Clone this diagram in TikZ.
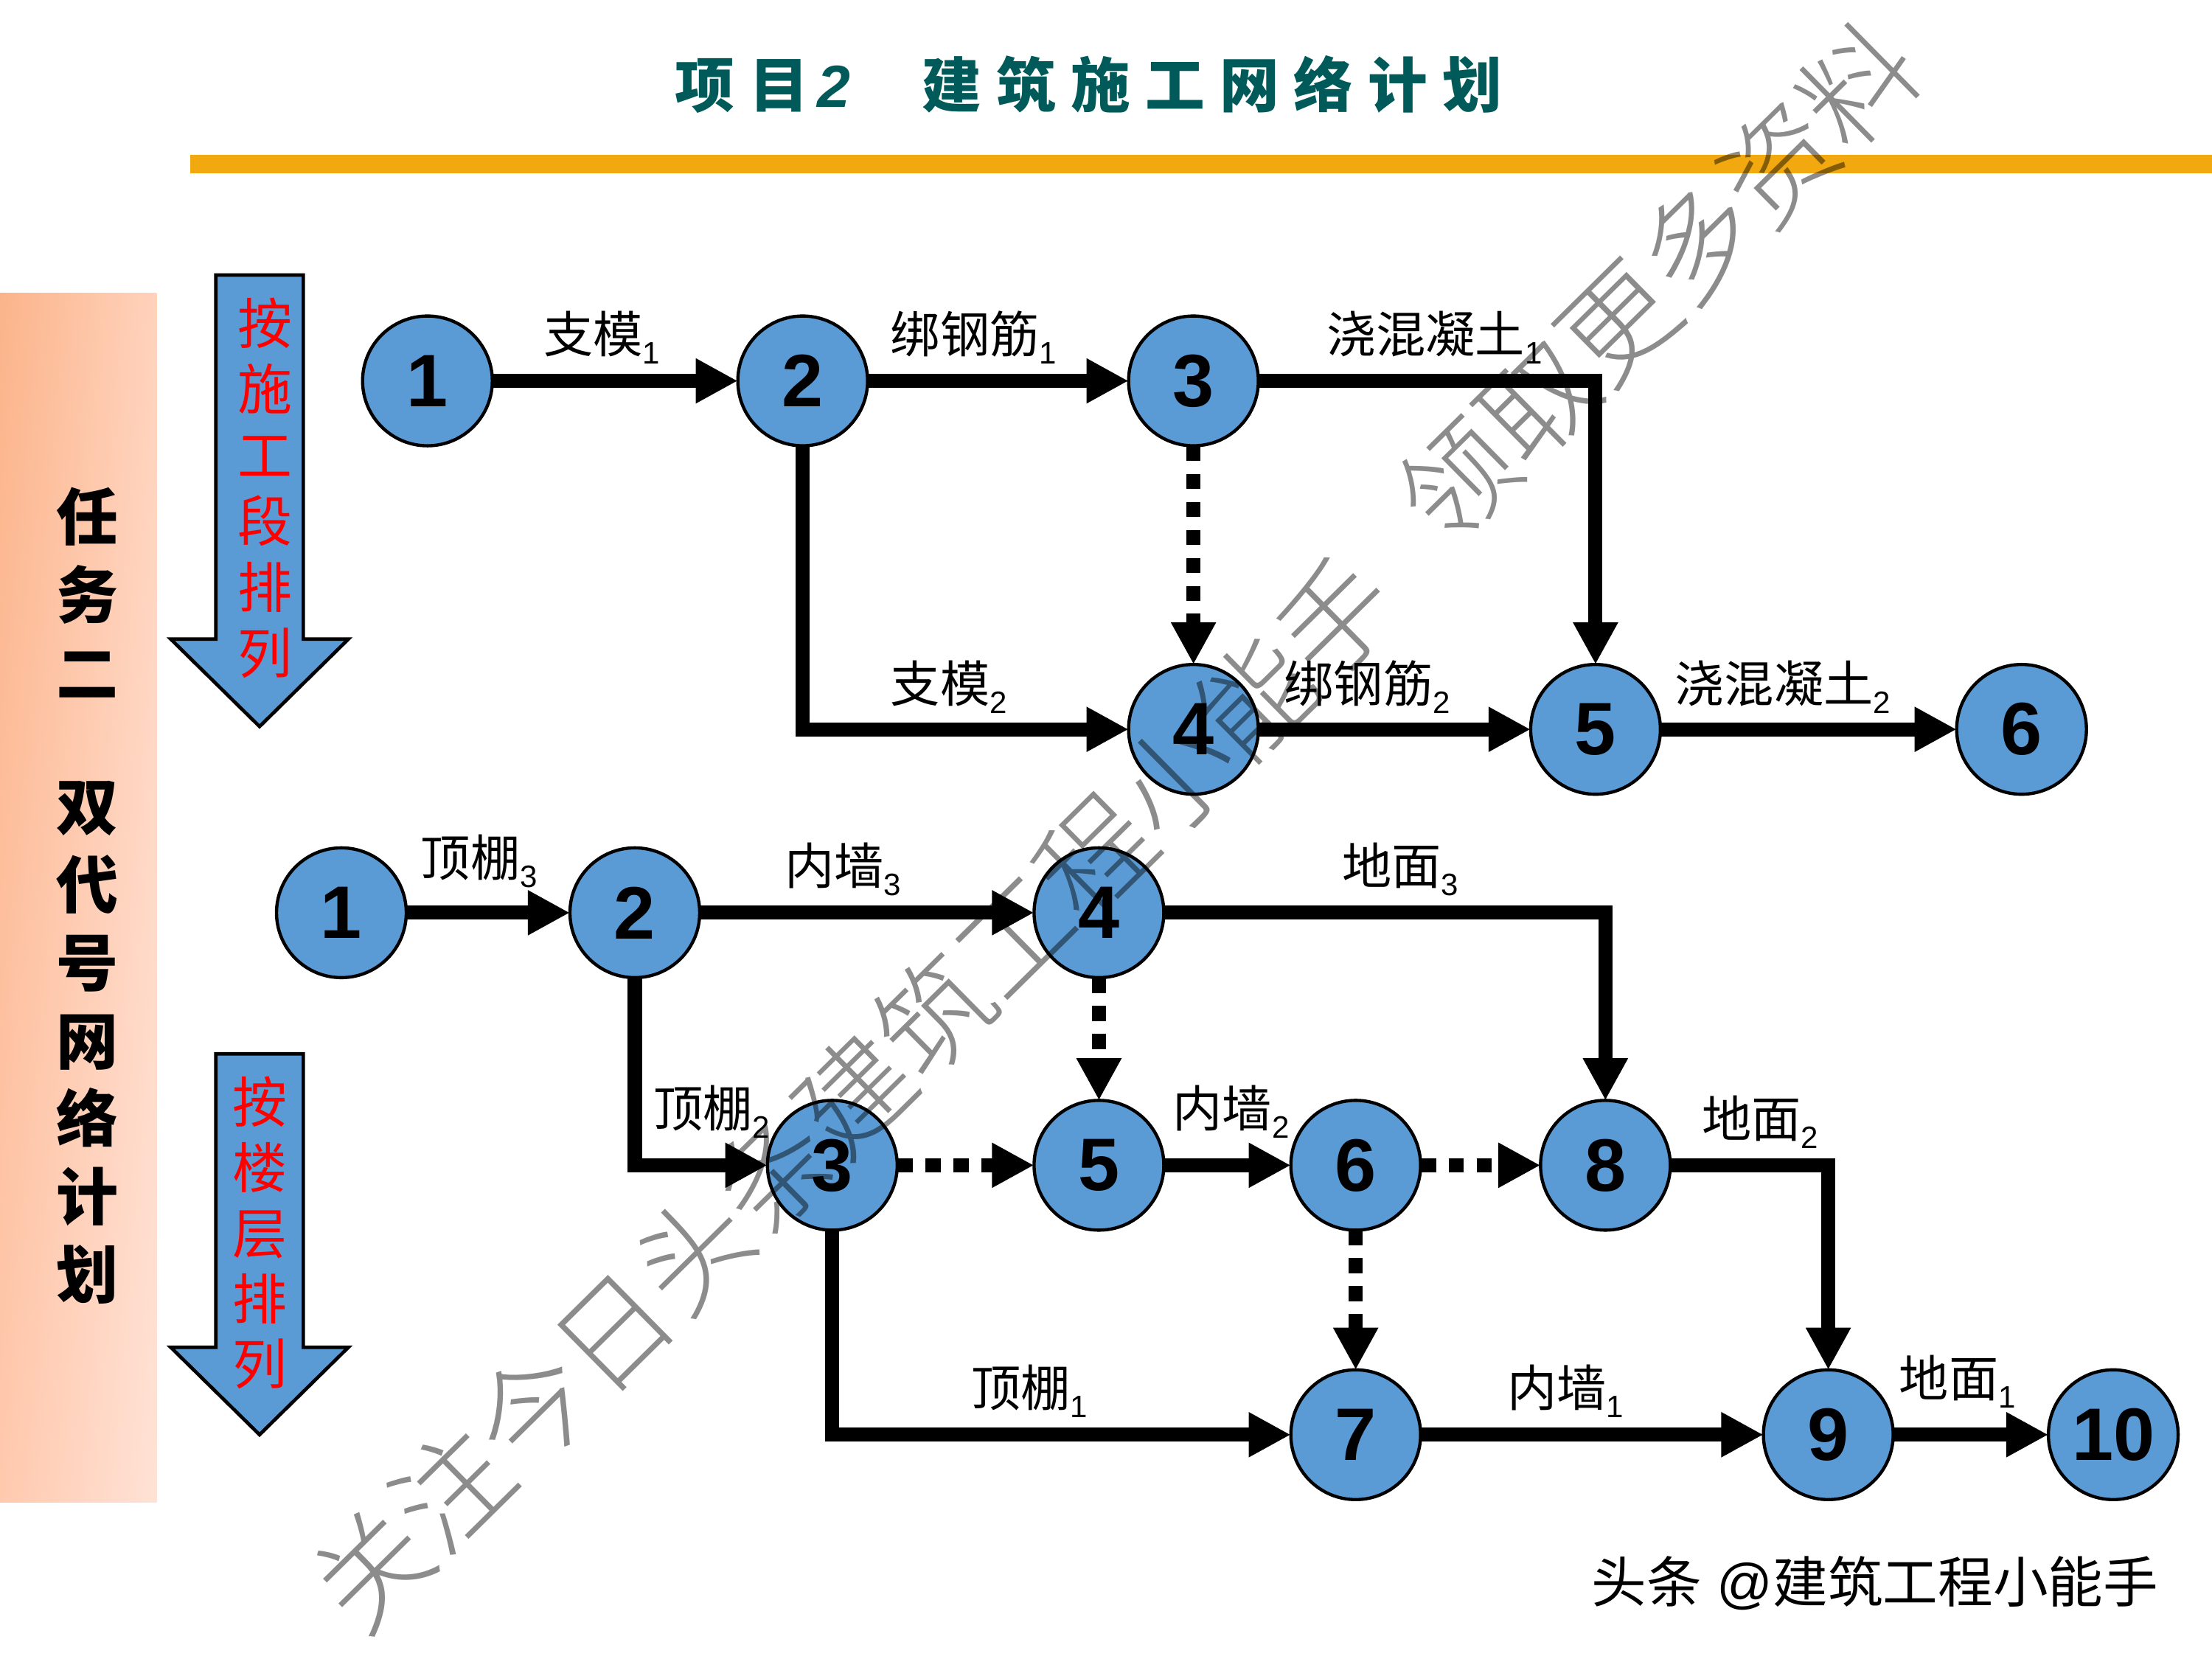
\documentclass[tikz,border=0pt]{standalone}
\usepackage{fontspec}
\setmainfont{Liberation Sans}
\newfontfamily\cjk{Noto Sans CJK SC}
\newfontfamily\titlefont[LetterSpace=25]{Noto Sans CJK SC}
\newfontfamily\markfont{Noto Sans CJK SC Light}
\usetikzlibrary{arrows.meta}
\usetikzlibrary{shadings}
\usetikzlibrary{shapes.geometric}

\definecolor{nodeblue}{HTML}{5B9BD5}
\definecolor{barorange}{HTML}{F2A80F}
\definecolor{titlegreen}{HTML}{005A5A}
\definecolor{panelA}{HTML}{FBB48A}
\definecolor{panelB}{HTML}{FFD2BC}
\definecolor{panelC}{HTML}{FFC9AE}
\definecolor{panelD}{HTML}{FFE2D6}

\tikzset{
  num/.style={circle,draw=black,line width=1.3pt,fill=nodeblue,minimum size=1.84cm,inner sep=0pt,outer sep=0pt,font=\fontsize{30}{30}\selectfont\bfseries},
  work/.style={line width=5.67pt,-{Triangle[length=17pt,width=17pt]}},
  dummy/.style={work,dash pattern=on 6.2pt off 5.1pt},
  lbl/.style={anchor=base west,inner sep=0pt,font=\fontsize{20}{20}\selectfont},
  bigarrow/.style={draw=black,line width=1.4pt,fill=nodeblue,line join=miter},
  marktext/.style={anchor=center,inner sep=0pt,black,opacity=0.45,rotate=44.6,font=\markfont\fontsize{45.5}{45.5}\selectfont}
}
\newcommand{\wk}[2]{{\cjk #1}\raisebox{-4.5pt}{\fontsize{12.5}{12.5}\selectfont #2}}

\begin{document}
\begin{tikzpicture}[x=0.02cm,y=-0.02cm]
  \useasboundingbox (0,0) rectangle (1568,1176);

  %side panel and bar
  \shade[upper left=panelA,upper right=panelB,lower left=panelC,lower right=panelD] (0,208) rectangle (111,1065);
  \fill[barorange] (135,110) rectangle (1568,123);

  \node[inner sep=0pt,anchor=west,titlegreen,font=\titlefont\fontsize{24}{24}\selectfont\bfseries] (title) at (478,60) {项目\hspace{3.5pt}{\rmfamily\itshape 2}\ \ \hspace{6pt}建筑施工网络计划};

  \node[inner sep=0pt,align=center,font=\cjk\fontsize{25}{31.5}\selectfont\bfseries] (task) at (62,635) {任\\务\\二\\[22.4pt]双\\代\\号\\网\\络\\计\\划};

  %big arrows
  \draw[bigarrow] (153,195) -- (215,195) -- (215,453) -- (247,453) -- (184,515) -- (121,453) -- (153,453) -- cycle;
  \draw[bigarrow] (153,747) -- (215,747) -- (215,955) -- (247,955) -- (184,1017) -- (121,955) -- (153,955) -- cycle;
  \node[inner sep=0pt,align=center,red,font=\cjk\fontsize{22}{26.6}\selectfont] (bysection) at (188,346) {按\\施\\工\\段\\排\\列};
  \node[inner sep=0pt,align=center,red,font=\cjk\fontsize{22}{26.4}\selectfont] (byfloor) at (184,874) {按\\楼\\层\\排\\列};

  %nodes by section
  \foreach \name/\num/\x/\y in {a1/1/303/270,a2/2/569/270,a3/3/846/270,a4/4/846/517,a5/5/1131/517,a6/6/1433/517}{
    \node[num] (\name) at (\x,\y) {\num};
  }

  %nodes by floor
  \foreach \name/\num/\x/\y in {b1/1/242/647,b2/2/450/647,b4/4/779/647,b3/3/590/826,b5/5/779/826,b6/6/961/826,b8/8/1138/826,b7/7/961/1017,b9/9/1296/1017,b10/10/1498/1017}{
    \node[num] (\name) at (\x,\y) {\num};
  }

  %real work
  \foreach \s/\t in {a1/a2,a2/a3,a4/a5,a5/a6,b1/b2,b2/b4,b5/b6,b7/b9,b9/b10}{
    \draw[work] (\s) -- (\t);
  }
  \foreach \s/\t in {a3/a5,b4/b8,b8/b9}{
    \draw[work] (\s) -| (\t);
  }
  \foreach \s/\t in {a2/a4,b2/b3,b3/b7}{
    \draw[work] (\s) |- (\t);
  }

  %dummy work
  \foreach \s/\t in {a3/a4,b4/b5,b3/b5,b6/b8,b6/b7}{
    \draw[dummy] (\s) -- (\t);
  }

  %work labels
  \foreach \name/\txt/\i/\x/\y in {l1/支模/1/385/250,l2/绑钢筋/1/631/250,l3/浇混凝土/1/940/250,l4/支模/2/631/498,l5/绑钢筋/2/910/498,l6/浇混凝土/2/1187/498,l7/顶棚/3/298/621,l8/内墙/3/556/627,l9/地面/3/951/627,l10/顶棚/2/463/799,l11/内墙/2/831/799,l12/地面/2/1206/806,l13/顶棚/1/688/997,l14/内墙/1/1068/997,l15/地面/1/1346/990}{
    \node[lbl] (\name) at (\x,\y) {\wk{\txt}{\i}};
  }

  %marks on top
  \node[marktext] (mark1) at (605,775) {关注今日头条建筑工程小能手};
  \node[marktext] (mark2) at (1175,200) {领取更多资料};
  \node[inner sep=0pt,anchor=west,black,font=\fontsize{22.2}{22.2}\selectfont] (credit) at (1128,1122) {{\cjk 头条} @{\cjk 建筑工程小能手}};
\end{tikzpicture}
\end{document}
